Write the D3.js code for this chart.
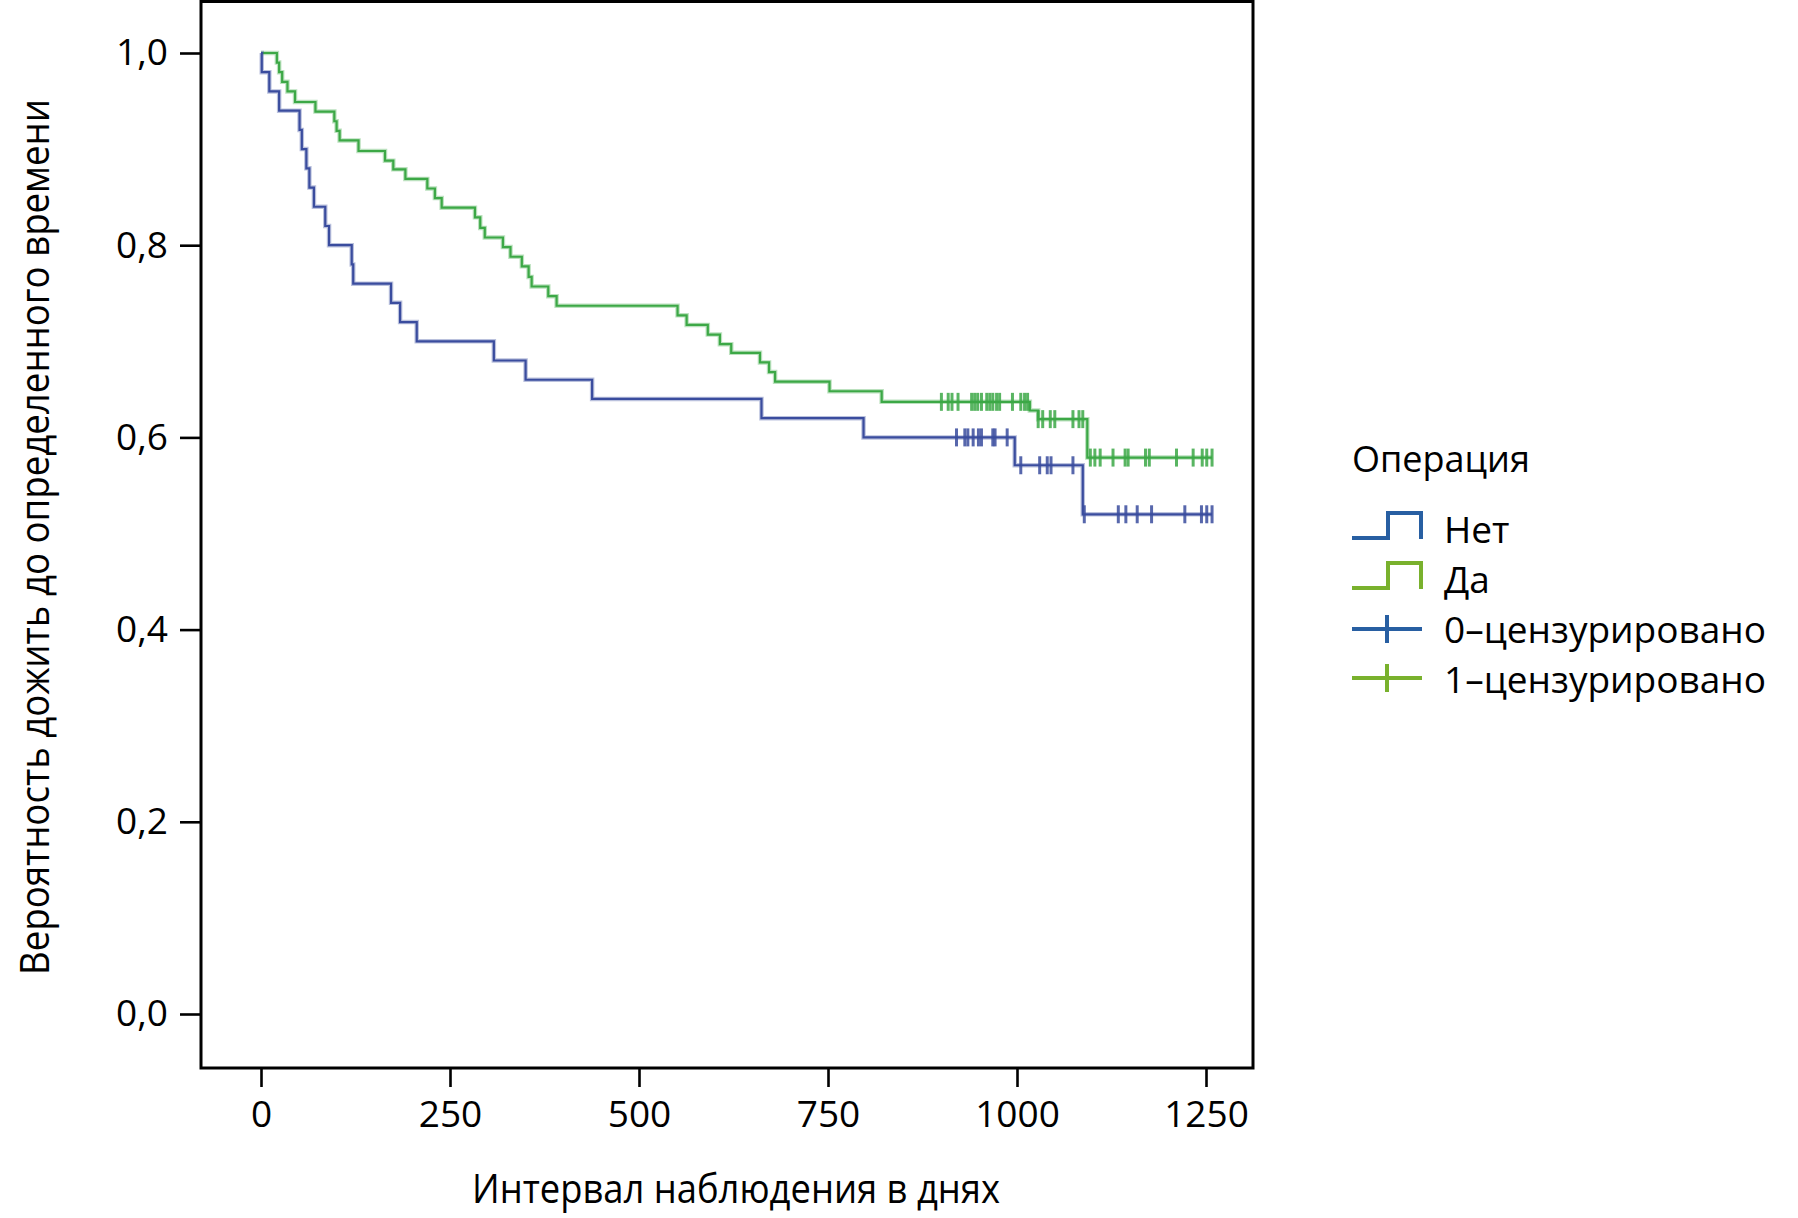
<!DOCTYPE html>
<html>
<head>
<meta charset="utf-8">
<script src="https://cdn.jsdelivr.net/npm/d3@7"></script>
<style>
  body { margin: 0; background: #fff; }
  text { font-family: "Open Sans", "Noto Sans", sans-serif; fill: #000; }
</style>
</head>
<body>
<svg id="chart" width="1798" height="1218"></svg>
<script>
// ---- data ----
// step points: day at which survival drops, and new survival value
var netTimes = [0, 1, 11, 24, 51, 54, 60, 64, 70, 85, 90, 120, 122, 172, 184, 206, 308, 350, 438, 662, 797, 997, 1087];
var netSurv  = [1.0, 0.98, 0.96, 0.94, 0.92, 0.90, 0.88, 0.86, 0.84, 0.82, 0.80, 0.78, 0.76, 0.74, 0.72, 0.70, 0.68, 0.66, 0.64, 0.62, 0.60, 0.571, 0.52];
var netCensored = [920, 931, 935, 942, 949, 953, 968, 971, 987, 1005, 1030, 1040, 1045, 1074, 1089, 1134, 1144, 1159, 1178, 1222, 1244, 1251, 1258];

var daTimes = [0, 21, 24, 28, 35, 45, 72, 97, 100, 104, 129, 164, 175, 191, 220, 230, 239, 283, 290, 296, 320, 330, 345, 354, 358, 380, 391,
               551, 563, 591, 607, 622, 660, 672, 680, 752, 821, 1017, 1028, 1093];
var daSurv  = [1.0, 0.99, 0.98, 0.97, 0.96, 0.949, 0.939, 0.929, 0.919, 0.909, 0.898, 0.888, 0.879, 0.869, 0.859, 0.849, 0.839, 0.829, 0.818, 0.808, 0.798, 0.788, 0.778, 0.767, 0.757, 0.747, 0.737,
               0.727, 0.717, 0.707, 0.697, 0.688, 0.678, 0.668, 0.658, 0.648, 0.637, 0.628, 0.619, 0.579];
var daCensored = [900, 909, 914, 922, 940, 944, 948, 953, 960, 964, 968, 973, 977, 994, 1005, 1010, 1014,
                  1028, 1034, 1044, 1050, 1074, 1082, 1087,
                  1097, 1103, 1110, 1127, 1143, 1147, 1170, 1175, 1211, 1233, 1245, 1251, 1258];

var xTicks = [0, 250, 500, 750, 1000, 1250];
var yTicks = [0, 0.2, 0.4, 0.6, 0.8, 1.0];

var groupNames = ["Нет", "Да"];
var legendTitle = "Операция";
var censorNames = ["0–цензурировано", "1–цензурировано"];
var xTitle = "Интервал наблюдения в днях";
var yTitle = "Вероятность дожить до определенного времени";

// ---- layout ----
var frame = {left: 201, right: 1253, top: 1.5, bottom: 1068};
var lineColors = ["#3a4c9e", "#3ca846"];
var legendColors = ["#285fa2", "#79b12d"];

var svg = d3.select("#chart");

var x = d3.scaleLinear().domain([0, 1250]).range([261, 1206]);
var y = d3.scaleLinear().domain([0, 1]).range([1014, 53]);

var commaFmt = d3.formatLocale({decimal: ",", thousands: "", grouping: [3], currency: ["", ""]}).format(".1f");

// axes
var xAxis = d3.axisBottom(x).tickValues(xTicks).tickSize(19).tickPadding(14).tickFormat(d3.format("d"));
var yAxis = d3.axisLeft(y).tickValues(yTicks).tickSize(21).tickPadding(12).tickFormat(commaFmt);

var gx = svg.append("g")
  .attr("transform", "translate(0," + frame.bottom + ")")
  .call(xAxis);
var gy = svg.append("g")
  .attr("transform", "translate(" + frame.left + ",0)")
  .call(yAxis);

[gx, gy].forEach(function(g){
  g.select(".domain").remove();
  g.selectAll(".tick line").attr("stroke", "#000").attr("stroke-width", 2.6);
  g.selectAll(".tick text")
   .style("font-family", "'Open Sans', 'Noto Sans', sans-serif")
   .style("font-size", "37px")
   .attr("fill", "#000");
});

// frame
svg.append("rect")
  .attr("x", frame.left)
  .attr("y", frame.top)
  .attr("width", frame.right - frame.left)
  .attr("height", frame.bottom - frame.top)
  .attr("fill", "none")
  .attr("stroke", "#000")
  .attr("stroke-width", 3);

// survival step at time t
function survAt(times, surv, t){
  var s = surv[0];
  for (var i = 0; i < times.length; i++){
    if (times[i] <= t) s = surv[i];
  }
  return s;
}

var stepLine = d3.line()
  .x(function(d){ return x(d[0]); })
  .y(function(d){ return y(d[1]); })
  .curve(d3.curveStepAfter);

var groups = [
  {times: netTimes, surv: netSurv, cens: netCensored, color: lineColors[0]},
  {times: daTimes, surv: daSurv, cens: daCensored, color: lineColors[1]}
];

// draw the green (Да) under the blue
[1, 0].forEach(function(gi){
  var g = groups[gi];
  var pts = g.times.map(function(t, i){ return [t, g.surv[i]]; });
  var lastT = d3.max(g.cens);
  pts.push([lastT, g.surv[g.surv.length - 1]]);

  var layer = svg.append("g");
  // soft halo, as in the scanned figure
  layer.append("path")
    .datum(pts)
    .attr("d", stepLine)
    .attr("fill", "none")
    .attr("stroke", g.color)
    .attr("stroke-opacity", 0.35)
    .attr("stroke-width", 4.5);
  layer.append("path")
    .datum(pts)
    .attr("d", stepLine)
    .attr("fill", "none")
    .attr("stroke", g.color)
    .attr("stroke-width", 2.2);

  layer.selectAll("line.cens")
    .data(g.cens)
    .enter()
    .append("line")
    .attr("class", "cens")
    .attr("x1", function(d){ return x(d); })
    .attr("x2", function(d){ return x(d); })
    .attr("y1", function(d){ return y(survAt(g.times, g.surv, d)) - 9; })
    .attr("y2", function(d){ return y(survAt(g.times, g.surv, d)) + 9; })
    .attr("stroke", g.color)
    .attr("stroke-opacity", 0.85)
    .attr("stroke-width", 3);
});

// axis titles
svg.append("text")
  .attr("x", 736)
  .attr("y", 1203)
  .attr("text-anchor", "middle")
  .attr("textLength", 528)
  .attr("lengthAdjust", "spacingAndGlyphs")
  .style("font-size", "41px")
  .text(xTitle);

svg.append("text")
  .attr("transform", "translate(49,537) rotate(-90)")
  .attr("text-anchor", "middle")
  .attr("textLength", 876)
  .attr("lengthAdjust", "spacingAndGlyphs")
  .style("font-size", "40px")
  .text(yTitle);

// legend
var lg = svg.append("g");
lg.append("text")
  .attr("x", 1352)
  .attr("y", 472)
  .style("font-size", "36px")
  .text(legendTitle);

var stepSym = [[0, 25], [36, 25], [36, 0], [69, 0], [69, 26]];
var symLine = d3.line();

groupNames.forEach(function(name, i){
  var top = 513 + i * 50;
  lg.append("path")
    .attr("d", symLine(stepSym.map(function(p){ return [1352 + p[0], top + p[1]]; })))
    .attr("fill", "none")
    .attr("stroke", legendColors[i])
    .attr("stroke-width", 4);
  lg.append("text")
    .attr("x", 1444)
    .attr("y", 543 + i * 50)
    .style("font-size", "37px")
    .text(name);
});

censorNames.forEach(function(name, i){
  var cy = 629 + i * 49;
  lg.append("line")
    .attr("x1", 1352).attr("x2", 1422)
    .attr("y1", cy).attr("y2", cy)
    .attr("stroke", legendColors[i])
    .attr("stroke-width", 4);
  lg.append("line")
    .attr("x1", 1387).attr("x2", 1387)
    .attr("y1", cy - 14).attr("y2", cy + 14)
    .attr("stroke", legendColors[i])
    .attr("stroke-width", 4);
  lg.append("text")
    .attr("x", 1444)
    .attr("y", 643 + i * 50)
    .style("font-size", "37px")
    .text(name);
});
</script>
</body>
</html>
